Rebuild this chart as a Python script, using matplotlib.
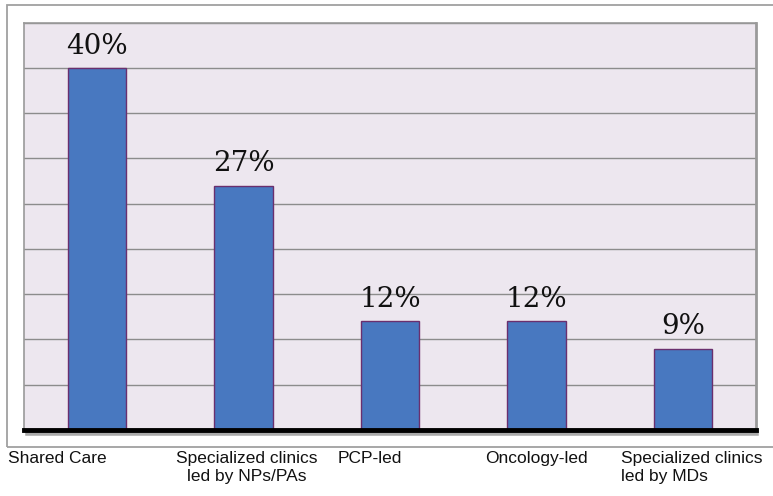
import matplotlib.pyplot as plt
from matplotlib.patches import Rectangle
from matplotlib.lines import Line2D

# Data
categories = ["Shared Care", "Specialized clinics\nled by NPs/PAs", "PCP-led",
              "Oncology-led", "Specialized clinics\nled by MDs"]
values = [40, 27, 12, 12, 9]
value_labels = ["40%", "27%", "12%", "12%", "9%"]

# where each category label sits relative to its bar (data units)
label_shift = [-0.27, 0.02, -0.14, 0.0, 0.06]
label_align = ["center", "center", "center", "center", "left"]

fig = plt.figure(figsize=(7.73, 4.96), dpi=100)
fig.patch.set_facecolor("white")

# outer frame (right side runs off the picture)
fig.add_artist(Rectangle((7 / 773, 1 - 447 / 496), 1.1, (447 - 4.5) / 496,
                         transform=fig.transFigure, fill=False,
                         edgecolor="#a0a0a0", linewidth=1.3))

ax = fig.add_axes([24 / 773, 1 - 430 / 496, (756 - 24) / 773, (430 - 22.5) / 496])
ax.set_facecolor("#ede7ef")

x = range(len(categories))
ax.bar(x, values, width=0.4, color="#4878c0", edgecolor="#6a2f6e",
       linewidth=1.0, zorder=3)

ax.set_xlim(-0.5, len(categories) - 0.5)
ax.set_ylim(0, 45)
ax.set_yticks(range(0, 46, 5))
ax.yaxis.grid(True, color="#8c8c8c", linewidth=1.0, zorder=0)
ax.tick_params(left=False, bottom=False, labelleft=False, labelbottom=False)

for side in ["top", "left", "right"]:
    ax.spines[side].set_color("#9a9a9a")
    ax.spines[side].set_linewidth(1.2)
ax.spines["right"].set_linewidth(2.0)
ax.spines["bottom"].set_visible(False)

# thick black base line with a soft shadow
ax.add_line(Line2D([0.005, 1.0], [-0.007, -0.007], transform=ax.transAxes,
                   color="#555555", linewidth=4, alpha=0.5, clip_on=False, zorder=4))
ax.add_line(Line2D([0.0, 1.0], [0.0, 0.0], transform=ax.transAxes,
                   color="black", linewidth=3.5, clip_on=False, zorder=5))

for i, v in enumerate(values):
    ax.text(i, v + 0.9, value_labels[i], ha="center", va="bottom",
            fontsize=20, family="DejaVu Serif", color="#111111", zorder=6)

for i, c in enumerate(categories):
    ax.text(i + label_shift[i], -2.3, c, ha="center", va="top",
            multialignment=label_align[i],
            fontsize=12.5, family="Liberation Sans", color="#111111",
            linespacing=1.3, clip_on=False)

fig.savefig("out.png", dpi=100)
